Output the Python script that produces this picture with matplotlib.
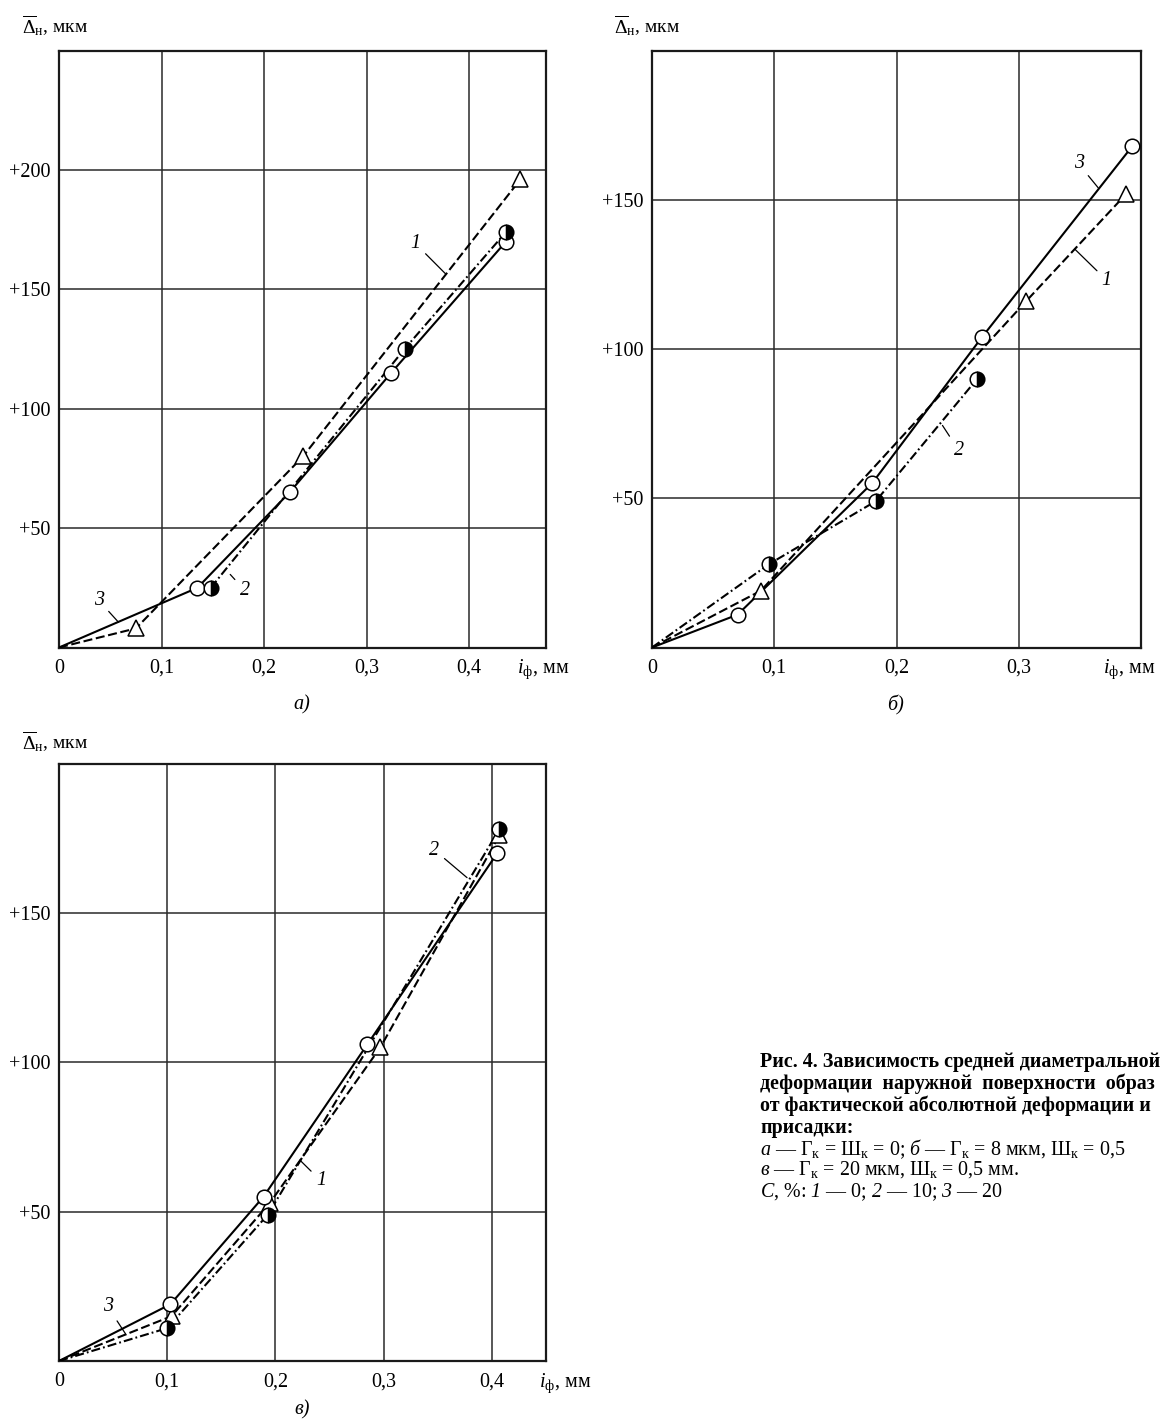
import matplotlib
matplotlib.use("Agg")
import matplotlib.pyplot as plt

# ---------------- data ----------------
# panel a)
a_x1 = [0, 0.075, 0.238, 0.450]
a_y1 = [0, 8, 80, 196]
a_x2 = [0.148, 0.337, 0.436]
a_y2 = [25, 125, 174]
a_x3 = [0, 0.135, 0.225, 0.324, 0.436]
a_y3 = [0, 25, 65, 115, 170]

# panel б)
b_x1 = [0, 0.089, 0.306, 0.388]
b_y1 = [0, 19, 116, 152]
b_x2 = [0, 0.096, 0.183, 0.266]
b_y2 = [0, 28, 49, 90]
b_x3 = [0, 0.070, 0.180, 0.270, 0.393]
b_y3 = [0, 11, 55, 104, 168]

# panel в)
c_x1 = [0, 0.104, 0.195, 0.297, 0.407]
c_y1 = [0, 15, 53, 105, 176]
c_x2 = [0, 0.100, 0.193, 0.407]
c_y2 = [0, 11, 49, 178]
c_x3 = [0, 0.103, 0.189, 0.285, 0.405]
c_y3 = [0, 19, 55, 106, 170]

x_ticks_a = [0, 0.1, 0.2, 0.3, 0.4]
x_ticks_b = [0, 0.1, 0.2, 0.3]
x_ticks_c = [0, 0.1, 0.2, 0.3, 0.4]
x_ticklabels_a = ["0", "0,1", "0,2", "0,3", "0,4"]
x_ticklabels_b = ["0", "0,1", "0,2", "0,3"]
x_ticklabels_c = ["0", "0,1", "0,2", "0,3", "0,4"]
y_ticks_a = [50, 100, 150, 200]
y_ticks_b = [50, 100, 150]
y_ticks_c = [50, 100, 150]
y_ticklabels_a = ["+50", "+100", "+150", "+200"]
y_ticklabels_b = ["+50", "+100", "+150"]
y_ticklabels_c = ["+50", "+100", "+150"]

# ---------------- style ----------------
plt.rcParams["font.family"] = ["Liberation Serif", "DejaVu Serif"]
plt.rcParams["mathtext.fontset"] = "custom"
plt.rcParams["mathtext.rm"] = "Liberation Serif"
plt.rcParams["mathtext.it"] = "Liberation Serif:italic"
plt.rcParams["mathtext.sf"] = "Liberation Serif:italic"
plt.rcParams["mathtext.bf"] = "Liberation Serif:bold"
plt.rcParams["lines.scale_dashes"] = False

W, H = 1161, 1427
fig = plt.figure(figsize=(W / 100, H / 100), dpi=100)


def px(x, y):
    return x / W, 1 - y / H


def axes_px(left, top, right, bottom):
    return fig.add_axes([left / W, 1 - bottom / H, (right - left) / W, (bottom - top) / H])


LW = 1.5
DASH = (0, (6.5, 2.6))
DASHDOT = (0, (6.5, 2.2, 1.3, 2.2))
FS = 14.5


def draw_panel(ax, xlim, ylim, xt, xtl, yt, ytl, series, labels):
    ax.set_xlim(*xlim)
    ax.set_ylim(*ylim)
    ax.set_xticks(xt)
    ax.set_xticklabels(xtl)
    ax.set_yticks(yt)
    ax.set_yticklabels(ytl)
    ax.tick_params(length=0, labelsize=FS, pad=8)
    ax.tick_params(axis="y", pad=6)
    ax.grid(True, color="#2a2a2a", lw=1.1)
    ax.set_axisbelow(True)
    for s in ax.spines.values():
        s.set_linewidth(1.6)
        s.set_color("#1a1a1a")
    for (x, y, ls, mk) in series:
        idx = [i for i, v in enumerate(x) if v > 0]
        ax.plot(x, y, color="black", lw=LW, ls=ls, zorder=3)
        if mk == "o":
            ax.plot([x[i] for i in idx], [y[i] for i in idx], ls="none", marker="o",
                    ms=10.5, mfc="white", mec="black", mew=1.1, zorder=5)
        elif mk == "^":
            ax.plot([x[i] for i in idx], [y[i] for i in idx], ls="none", marker="^",
                    ms=11, mfc="white", mec="black", mew=1.1, zorder=5)
        else:
            ax.plot([x[i] for i in idx], [y[i] for i in idx], ls="none", marker="o",
                    ms=10.5, fillstyle="right", mfc="black", mfcalt="white",
                    mec="black", mew=1.1, zorder=6)
    for (t, tx, ty, lx, ly) in labels:
        ax.annotate(t, xy=(lx, ly), xytext=(tx, ty), fontsize=FS, style="italic",
                    ha="center", va="center",
                    arrowprops=dict(arrowstyle="-", lw=0.9, color="black",
                                    shrinkA=2, shrinkB=0), zorder=7)


# panel a
ax_a = axes_px(59, 50.5, 546, 647.5)
draw_panel(ax_a, (0, 0.475), (0, 250), x_ticks_a, x_ticklabels_a, y_ticks_a, y_ticklabels_a,
           [(a_x1, a_y1, DASH, "^"), (a_x2, a_y2, DASHDOT, "h"), (a_x3, a_y3, "-", "o")],
           [("1", 0.348, 169, 0.377, 156.5), ("2", 0.181, 24, 0.167, 30.6),
            ("3", 0.039, 19.6, 0.058, 10.6)])

# panel б
ax_b = axes_px(652, 50.5, 1141, 647.5)
draw_panel(ax_b, (0, 0.4), (0, 200), x_ticks_b, x_ticklabels_b, y_ticks_b, y_ticklabels_b,
           [(b_x1, b_y1, DASH, "^"), (b_x2, b_y2, DASHDOT, "h"), (b_x3, b_y3, "-", "o")],
           [("3", 0.349, 162, 0.365, 154), ("1", 0.372, 123, 0.346, 133.4),
            ("2", 0.251, 66, 0.2376, 74.4)])

# panel в
ax_c = axes_px(59, 763.5, 546, 1361)
draw_panel(ax_c, (0, 0.45), (0, 200), x_ticks_c, x_ticklabels_c, y_ticks_c, y_ticklabels_c,
           [(c_x1, c_y1, DASH, "^"), (c_x2, c_y2, DASHDOT, "h"), (c_x3, c_y3, "-", "o")],
           [("2", 0.347, 171, 0.377, 161.8), ("1", 0.242, 60.3, 0.223, 67.1),
            ("3", 0.045, 18.2, 0.062, 8.8)])

# axis titles
ylab = r"$\overline{\Delta}_{\mathrm{н}}$, мкм"
xlab = r"$i_{\mathrm{ф}}$, мм"
for (x, y) in [(22, 33), (614, 33), (22, 749)]:
    fig.text(*px(x, y), ylab, fontsize=FS - 0.5, ha="left", va="baseline")
for (x, y) in [(517, 673), (1103, 673), (539, 1387)]:
    fig.text(*px(x, y), xlab, fontsize=FS, ha="left", va="baseline")

# panel letters
for (t, x, y) in [("а)", 302, 705), ("б)", 896, 705), ("в)", 302, 1410)]:
    fig.text(*px(x, y), t, fontsize=FS, style="italic", ha="center", va="center")

# caption
CFS = 14.4
cx = 760
cap_bold = [
    "Рис. 4. Зависимость средней диаметральной",
    "деформации  наружной  поверхности  образ",
    "от фактической абсолютной деформации и",
    "присадки:",
]
cap_norm = [
    r"$\mathit{а}$ — Г$_{\mathrm{к}}$ = Ш$_{\mathrm{к}}$ = 0; $\mathit{б}$ — Г$_{\mathrm{к}}$ = 8 мкм, Ш$_{\mathrm{к}}$ = 0,5",
    r"$\mathit{в}$ — Г$_{\mathrm{к}}$ = 20 мкм, Ш$_{\mathrm{к}}$ = 0,5 мм.",
    r"$\mathit{С}$, %: $\mathsf{1}$ — 0; $\mathsf{2}$ — 10; $\mathsf{3}$ — 20",
]
ys = [1062, 1084, 1106, 1128, 1149, 1170, 1192]
for i, t in enumerate(cap_bold):
    fig.text(*px(cx, ys[i]), t, fontsize=CFS, fontweight="bold", ha="left", va="center")
for j, t in enumerate(cap_norm):
    fig.text(*px(cx, ys[4 + j]), t, fontsize=CFS, ha="left", va="center")

fig.savefig("out.png", dpi=100)
